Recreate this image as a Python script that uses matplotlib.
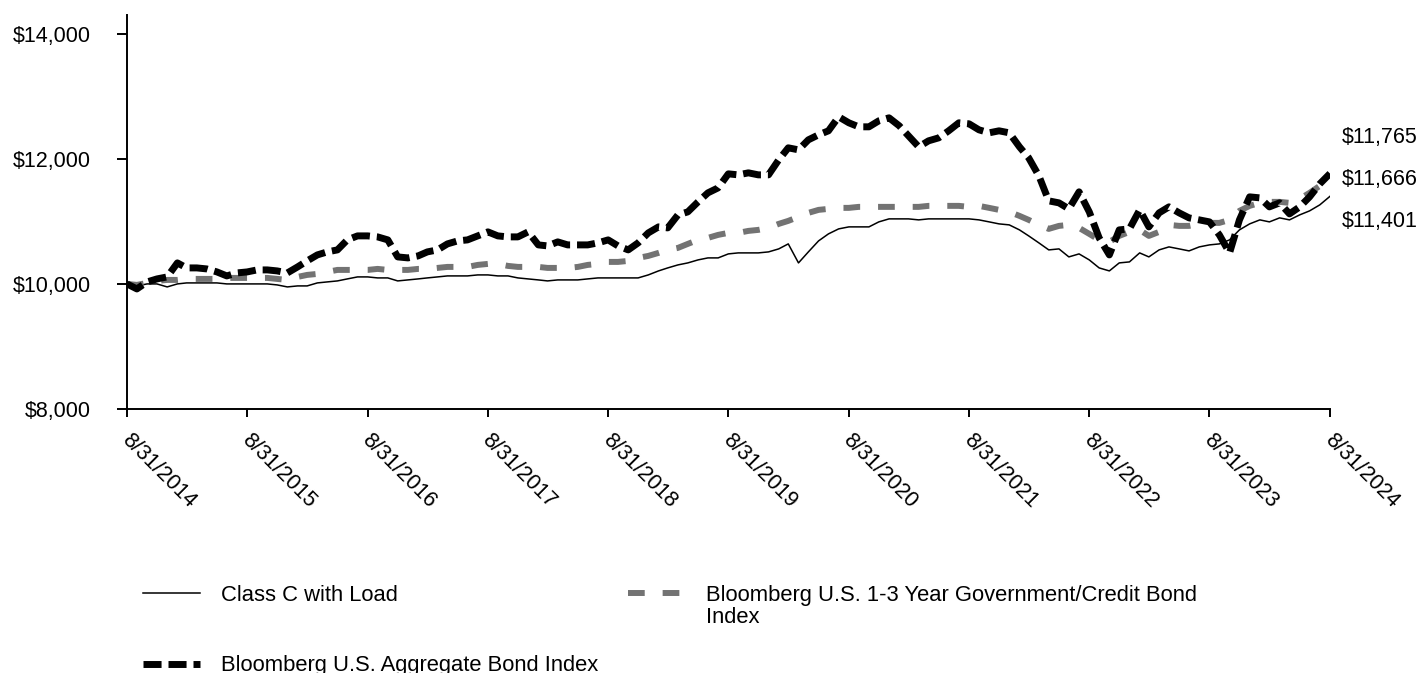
import matplotlib
matplotlib.use('Agg')
import matplotlib.pyplot as plt
from matplotlib.ticker import FuncFormatter
from matplotlib.transforms import ScaledTranslation
import pandas as pd

plt.rcParams['font.family'] = ['Liberation Sans', 'DejaVu Sans']

dates = pd.date_range('2014-08-31', '2024-08-31', freq='ME')

class_c = [
    10000, 9968, 10000, 10000, 9952, 10000, 10016, 10016, 10016, 10016, 10000, 10000, 10000,
    10000, 10000, 9984, 9952, 9968, 9968, 10016, 10032, 10048, 10080, 10112, 10112,
    10096, 10096, 10048, 10064, 10080, 10096, 10112, 10128, 10128, 10128, 10144, 10144,
    10128, 10128, 10096, 10080, 10064, 10048, 10064, 10064, 10064, 10080, 10096, 10096,
    10096, 10096, 10096, 10144, 10208, 10256, 10304, 10336, 10384, 10416, 10416, 10480,
    10496, 10496, 10496, 10512, 10560, 10640, 10336, 10512, 10688, 10800, 10880, 10912,
    10912, 10912, 10992, 11040, 11040, 11040, 11024, 11040, 11040, 11040, 11040, 11040,
    11024, 10992, 10960, 10944, 10864, 10768, 10656, 10544, 10560, 10432, 10480, 10384,
    10256, 10208, 10336, 10352, 10496, 10432, 10544, 10592, 10560, 10528, 10592, 10624,
    10640, 10704, 10864, 10960, 11024, 10992, 11056, 11024, 11104, 11168, 11264, 11401,
]

short_index = [
    10000, 9984, 10016, 10048, 10064, 10064, 10080, 10080, 10080, 10080, 10096, 10096, 10096,
    10096, 10096, 10080, 10064, 10112, 10144, 10160, 10192, 10224, 10224, 10224, 10224,
    10240, 10224, 10224, 10224, 10240, 10240, 10256, 10272, 10272, 10272, 10304, 10320,
    10320, 10288, 10272, 10272, 10272, 10256, 10256, 10256, 10272, 10304, 10320, 10352,
    10352, 10368, 10416, 10448, 10496, 10544, 10576, 10640, 10704, 10736, 10784, 10816,
    10816, 10848, 10864, 10896, 10960, 11008, 11072, 11136, 11184, 11200, 11216, 11216,
    11232, 11232, 11232, 11232, 11232, 11232, 11232, 11248, 11248, 11248, 11248, 11232,
    11248, 11216, 11184, 11152, 11088, 11024, 10944, 10880, 10928, 10944, 10896, 10800,
    10704, 10672, 10768, 10832, 10864, 10768, 10832, 10944, 10928, 10928, 10960, 10976,
    10976, 11024, 11168, 11248, 11296, 11312, 11312, 11296, 11360, 11456, 11568, 11666,
]

agg_index = [
    10000, 9920, 10032, 10080, 10112, 10336, 10256, 10256, 10240, 10192, 10128, 10176, 10192,
    10224, 10224, 10208, 10176, 10272, 10368, 10464, 10512, 10544, 10704, 10768, 10768,
    10752, 10704, 10432, 10416, 10448, 10512, 10544, 10640, 10688, 10704, 10768, 10832,
    10768, 10752, 10752, 10832, 10624, 10608, 10672, 10624, 10624, 10624, 10656, 10704,
    10608, 10544, 10656, 10816, 10912, 10896, 11104, 11152, 11312, 11456, 11536, 11760,
    11744, 11776, 11744, 11744, 11984, 12176, 12144, 12304, 12384, 12448, 12672, 12576,
    12512, 12512, 12608, 12656, 12528, 12368, 12192, 12288, 12336, 12448, 12576, 12560,
    12464, 12416, 12448, 12416, 12192, 12016, 11728, 11328, 11296, 11200, 11472, 11152,
    10736, 10464, 10864, 10880, 11184, 10912, 11136, 11232, 11136, 11056, 11024, 10992,
    10784, 10496, 11024, 11392, 11376, 11232, 11296, 11120, 11232, 11392, 11600, 11765,
]

names = [
    'Class C with Load',
    'Bloomberg U.S. 1-3 Year Government/Credit Bond',
    'Bloomberg U.S. Aggregate Bond Index',
]
name_wrap = 'Index'
y_ticks = [8000, 10000, 12000, 14000]


def money(v, pos=None):
    return f"${v:,.0f}"


def plot_growth():
    fig = plt.figure(figsize=(14.19, 6.73), dpi=100)
    ax = fig.add_axes([127 / 1419, 1 - 409 / 673, 1203 / 1419, 394 / 673])

    l_c, = ax.plot(dates, class_c, color='black', lw=1.1)
    l_s, = ax.plot(dates, short_index, color='#737373', lw=4.3,
                   dashes=(2.8, 3.0))
    l_a, = ax.plot(dates, agg_index, color='black', lw=5.0,
                   dashes=(2.6, 1.0))

    ax.set_xlim(dates[0], dates[-1])
    ax.set_ylim(8000, 14300)
    ax.set_yticks(y_ticks)
    ax.yaxis.set_major_formatter(FuncFormatter(money))

    year_ends = dates[::12]
    ax.set_xticks(year_ends)
    ax.set_xticklabels([f"{d.month}/{d.day}/{d.year}" for d in year_ends],
                       rotation=-45, ha='left', va='top',
                       rotation_mode='anchor')

    for s in ['top', 'right']:
        ax.spines[s].set_visible(False)
    for s in ['left', 'bottom']:
        ax.spines[s].set_linewidth(1.4)
    ax.tick_params(axis='both', labelsize=15.5, width=1.4, colors='black')
    ax.tick_params(axis='y', length=7, pad=19)
    ax.tick_params(axis='x', length=6, pad=9)
    shift = ScaledTranslation(5 / 100, 0, fig.dpi_scale_trans)
    for lab in ax.get_xticklabels():
        lab.set_transform(lab.get_transform() + shift)

    # end values
    ends = [(agg_index, 26), (short_index, 0), (class_c, -18)]
    for series, dy in ends:
        ax.annotate(money(series[-1]), xy=(dates[-1], series[-1]),
                    xytext=(8.6, dy), textcoords='offset points',
                    fontsize=15.5, ha='left', va='center',
                    annotation_clip=False)

    leg = fig.legend([l_c, l_a, l_s], [names[0], names[2], names[1]], ncol=2,
                     loc='upper left',
                     bbox_to_anchor=(143 / 1419, 1 - 585 / 673),
                     frameon=False, fontsize=15.8, handlelength=2.6,
                     handletextpad=0.97, columnspacing=1.33, labelspacing=2.25,
                     borderpad=0, borderaxespad=0)

    # second line of the wrapped legend label
    fig.canvas.draw()
    bb = leg.get_texts()[2].get_window_extent()
    fig.text(bb.x0 / fig.bbox.width, (bb.y0 - 22) / fig.bbox.height,
             name_wrap, fontsize=15.8, ha='left', va='bottom')

    fig.savefig('out.png', dpi=100)


def main():
    plot_growth()


if __name__ == '__main__':
    main()
